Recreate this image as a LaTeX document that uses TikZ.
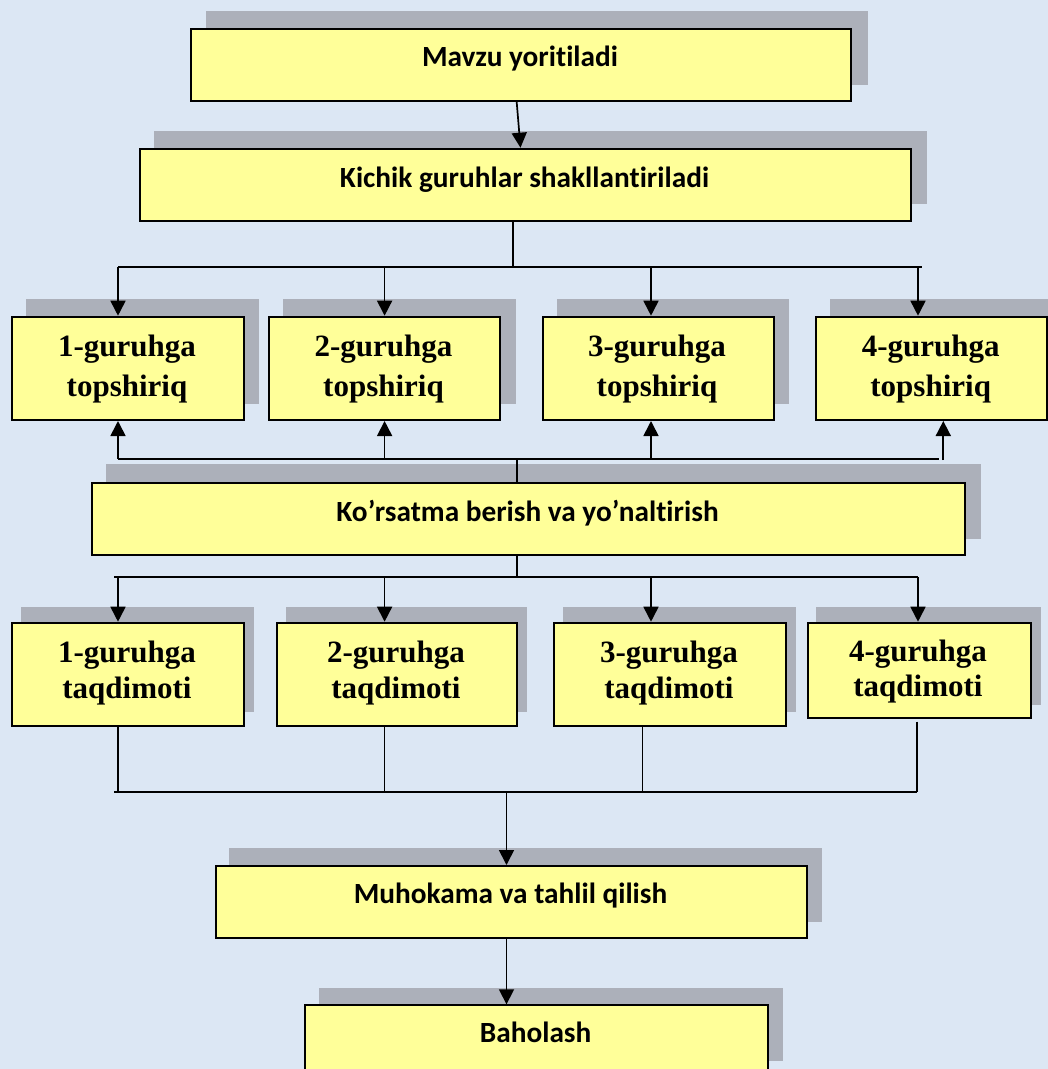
\documentclass[tikz,border=0pt]{standalone}
\usepackage{fontspec}
\setmainfont{Liberation Serif}
\newfontfamily\calib[Ligatures={NoCommon}]{Carlito}
\usetikzlibrary{arrows.meta,calc}
\definecolor{bgc}{RGB}{220,231,244}
\definecolor{boxy}{RGB}{255,255,153}
\definecolor{shd}{RGB}{172,176,186}
\newcommand\twoln[2]{\begin{tabular}[t]{@{}c@{}}#1\\#2\end{tabular}}
\begin{document}
\begin{tikzpicture}[x=1pt,y=-1pt,
  box/.style={draw=black, line width=2pt, fill=boxy, rectangle, inner sep=0pt, anchor=north west},
  shbox/.style={fill=shd},
  ctext/.style={anchor=base, font=\calib\bfseries\fontsize{29.3}{34}\selectfont, inner sep=0pt},
  gtext/.style={anchor=base, font=\bfseries\fontsize{31}{40.7}\selectfont, inner sep=0pt},
  htext/.style={anchor=base, font=\bfseries\fontsize{31}{35.6}\selectfont, inner sep=0pt},
  ln/.style={line width=1.7pt},
  arr/.style={line width=1.7pt, -{Triangle[length=15pt,width=15pt]}},
]
\useasboundingbox (0,0) rectangle (1048,1069);
\fill[bgc] (0,0) rectangle (1048,1069);
\clip (0,0) rectangle (1048,1069);

% shadows
\fill[shbox] (206,11) rectangle (867.5,85);
\fill[shbox] (153.7,130.7) rectangle (926.7,204.3);
\fill[shbox] (25.8,299) rectangle (259,404);
\fill[shbox] (283,299) rectangle (515.8,404);
\fill[shbox] (556.6,299) rectangle (789.4,404);
\fill[shbox] (830,299) rectangle (1062,404);
\fill[shbox] (106,464) rectangle (980.6,539);
\fill[shbox] (20.7,607) rectangle (254,712);
\fill[shbox] (285.8,607) rectangle (526.9,712);
\fill[shbox] (563,607) rectangle (796.4,712);
\fill[shbox] (816.3,607) rectangle (1041,705);
\fill[shbox] (229.4,847.7) rectangle (822.4,921.7);
\fill[shbox] (319,987.7) rectangle (783.3,1061);

% boxes
\node[box, minimum width=660pt, minimum height=72pt] (mavzu) at (190,28) {};
\node[box, minimum width=771pt, minimum height=72.3pt] (kichik) at (139,147.7) {};
\node[box, minimum width=231.8pt, minimum height=103.3pt] (t1) at (11,315.7) {};
\node[box, minimum width=231.7pt, minimum height=103.3pt] (t2) at (267.6,315.7) {};
\node[box, minimum width=231pt, minimum height=103.3pt] (t3) at (541.6,315.7) {};
\node[box, minimum width=230.7pt, minimum height=103.3pt] (t4) at (815.3,315.7) {};
\node[box, minimum width=873pt, minimum height=72pt] (korsatma) at (91,482) {};
\node[box, minimum width=231.8pt, minimum height=103pt] (q1) at (11,621.7) {};
\node[box, minimum width=239.8pt, minimum height=103pt] (q2) at (276,621.7) {};
\node[box, minimum width=232pt, minimum height=103pt] (q3) at (553,621.7) {};
\node[box, minimum width=222.5pt, minimum height=95.3pt] (q4) at (807,621.7) {};
\node[box, minimum width=591pt, minimum height=71.7pt] (muh) at (215,865) {};
\node[box, minimum width=463.3pt, minimum height=73pt] (bah) at (304,1004.3) {};

% texts
\node[ctext] (mavzuT) at (520,66.7) {Mavzu yoritiladi};
\node[ctext] (kichikT) at (524.5,187.7) {Kichik guruhlar shakllantiriladi};
\node[ctext] (korsatmaT) at (527.5,521) {Ko’rsatma berish va yo’naltirish};
\node[ctext] (muhT) at (510.5,903) {Muhokama va tahlil qilish};
\node[ctext] (bahT) at (535.6,1042) {Baholash};
\node[gtext] (t1T) at (127,356) {\twoln{1-guruhga}{topshiriq}};
\node[gtext] (t2T) at (383.5,356) {\twoln{2-guruhga}{topshiriq}};
\node[gtext] (t3T) at (657,356) {\twoln{3-guruhga}{topshiriq}};
\node[gtext] (t4T) at (930.7,356) {\twoln{4-guruhga}{topshiriq}};
\node[htext] (q1T) at (127,662.7) {\twoln{1-guruhga}{taqdimoti}};
\node[htext] (q2T) at (396,662.7) {\twoln{2-guruhga}{taqdimoti}};
\node[htext] (q3T) at (669,662.7) {\twoln{3-guruhga}{taqdimoti}};
\node[htext] (q4T) at (918,661) {\twoln{4-guruhga}{taqdimoti}};

% junction points
\coordinate (j0) at (513,267);
\coordinate (jl) at (118,267);
\coordinate (jr) at (922,267);
\coordinate (a2) at (384.6,267);
\coordinate (a3) at (651,267);
\coordinate (a4) at (918,267);
\coordinate (m0) at (517,459);
\coordinate (ml) at (118,459);
\coordinate (mr) at (939.3,459);
\coordinate (b2) at (384.6,459);
\coordinate (b3) at (651,459);
\coordinate (b4) at (943.3,460);
\coordinate (n0) at (517,577);
\coordinate (nl) at (114,577);
\coordinate (nr) at (918,577);
\coordinate (c1) at (118,577);
\coordinate (c2) at (384.6,577);
\coordinate (c3) at (651,577);
\coordinate (pl) at (114,792);
\coordinate (pr) at (917,792);
\coordinate (p1) at (118,792);
\coordinate (p2) at (384.6,792);
\coordinate (p3) at (642.6,792);
\coordinate (p0) at (506.5,792);
\coordinate (s4) at (917,721.7);

% connectors
\draw[arr] ([xshift=-4.3pt]mavzu.south) -- ([xshift=-5pt]kichik.north);
\draw[ln] (kichik.south -| j0) -- (j0);
\draw[ln] (jl) -- (jr);
\draw[arr] (jl) -- (jl |- t1.north);
\draw[arr] (a2) -- (a2 |- t2.north);
\draw[arr] (a3) -- (a3 |- t3.north);
\draw[arr] (a4) -- (a4 |- t4.north);

\draw[ln] (korsatma.north -| m0) -- (m0);
\draw[ln] (ml) -- (mr);
\draw[arr] (ml) -- (ml |- t1.south);
\draw[arr] (b2) -- (b2 |- t2.south);
\draw[arr] (b3) -- (b3 |- t3.south);
\draw[arr] (b4) -- (b4 |- t4.south);

\draw[ln] (korsatma.south -| n0) -- (n0);
\draw[ln] (nl) -- (nr);
\draw[arr] (c1) -- (c1 |- q1.north);
\draw[arr] (c2) -- (c2 |- q2.north);
\draw[arr] (c3) -- (c3 |- q3.north);
\draw[arr] (nr) -- (nr |- q4.north);

\draw[ln] (q1.south -| p1) -- (p1);
\draw[ln] (q2.south -| p2) -- (p2);
\draw[ln] (q3.south -| p3) -- (p3);
\draw[ln] (s4) -- (pr);
\draw[ln] (pl) -- (pr);
\draw[arr] (p0) -- (p0 |- muh.north);
\draw[arr] (muh.south -| p0) -- (p0 |- bah.north);
\end{tikzpicture}
\end{document}
